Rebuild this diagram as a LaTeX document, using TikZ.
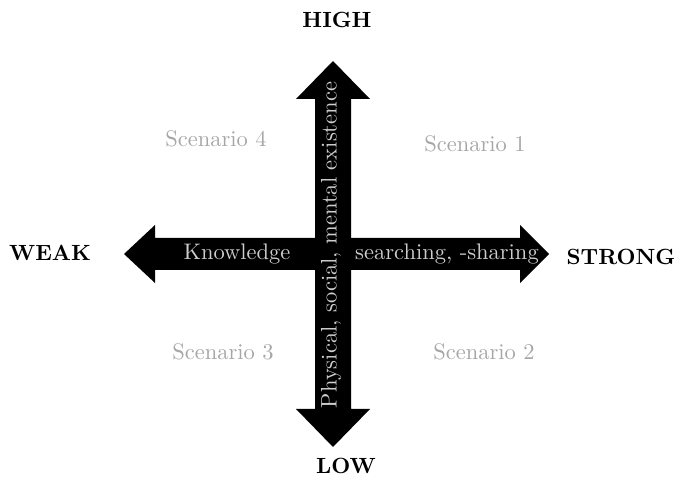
\documentclass[tikz,border=0pt]{standalone}
\usepackage{fontspec}
\setmainfont{lmroman10-regular.otf}[BoldFont=lmroman10-bold.otf]
\definecolor{scengray}{RGB}{166,166,166}
\definecolor{arrtext}{RGB}{205,205,205}
\tikzset{
  bigarrow/.style={fill=black,draw=none},
  pole/.style={font=\fontsize{22}{26}\selectfont\bfseries,inner sep=0pt,anchor=base},
  scen/.style={font=\fontsize{22.5}{26}\selectfont,text=scengray,inner sep=0pt,anchor=base},
  axistext/.style={font=\fontsize{22.5}{26}\selectfont,text=arrtext,inner sep=0pt,anchor=base}
}
\begin{document}
\begin{tikzpicture}[x=1pt,y=-1pt]
\useasboundingbox (0,0) rectangle (678,478);
% horizontal double arrow
\fill[bigarrow] (124,254) -- (155,225) -- (155,238) -- (520,238) -- (520,225) -- (549,254)
  -- (520,283) -- (520,270) -- (155,270) -- (155,283) -- cycle;
% vertical double arrow
\fill[bigarrow] (333,61) -- (370,99) -- (351,99) -- (351,409) -- (370,409) -- (333,447)
  -- (296,409) -- (315,409) -- (315,99) -- (296,99) -- cycle;
% axis texts
\node[axistext] (know) at (237,260) {Knowledge};
\node[axistext] (search) at (447,260) {searching, -sharing};
\node[axistext,rotate=90,anchor=center] (exist) at (331,245) {Physical, social, mental existence};
% poles
\node[pole] (high) at (337,28) {HIGH};
\node[pole] (low) at (346,473) {LOW};
\node[pole] (weak) at (50,261) {WEAK};
\node[pole] (strong) at (621,265) {STRONG};
% scenarios
\node[scen] (s4) at (216,147) {Scenario 4};
\node[scen] (s1) at (475,152) {Scenario 1};
\node[scen] (s3) at (223,360) {Scenario 3};
\node[scen] (s2) at (484,360) {Scenario 2};
\end{tikzpicture}
\end{document}
